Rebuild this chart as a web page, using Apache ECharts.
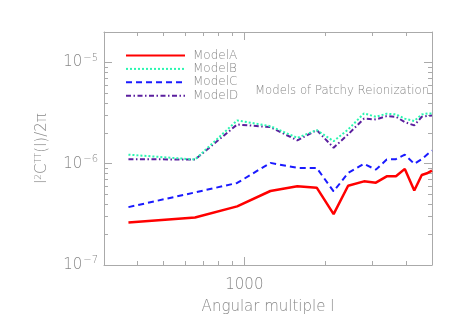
<!DOCTYPE html>
<html lang="en">
<head>
    <meta charset="UTF-8">
    <title>Models of Patchy Reionization</title>
    <script type="text/javascript" src="https://cdn.jsdelivr.net/npm/echarts@6/dist/echarts.min.js"></script>
    <style>
        html, body { margin: 0; padding: 0; background: #fff; }
    </style>
</head>
<body>
    <div id="main" style="width:463px;height:331px;"></div>
<script type="text/javascript">
    // multipole l
    var ell = [370, 655, 940, 1250, 1575, 1860, 2150, 2435, 2790, 3090, 3390, 3670, 3960, 4295, 4580, 4820, 5000];
    // l^2 C^TT(l) / 2pi for each model
    var modelA = [2.63e-7, 2.94e-7, 3.79e-7, 5.38e-7, 5.98e-7, 5.80e-7, 3.18e-7, 6.07e-7, 6.70e-7, 6.50e-7, 7.51e-7, 7.51e-7, 8.89e-7, 5.45e-7, 7.75e-7, 8.11e-7, 8.55e-7];
    var modelB = [1.23e-6, 1.10e-6, 2.68e-6, 2.35e-6, 1.80e-6, 2.15e-6, 1.67e-6, 2.18e-6, 3.14e-6, 2.91e-6, 3.12e-6, 3.07e-6, 2.79e-6, 2.64e-6, 3.07e-6, 3.14e-6, 3.14e-6];
    var modelC = [3.73e-7, 5.21e-7, 6.46e-7, 1.02e-6, 9.10e-7, 9.10e-7, 5.33e-7, 8.11e-7, 9.97e-7, 8.75e-7, 1.10e-6, 1.11e-6, 1.23e-6, 9.97e-7, 1.11e-6, 1.25e-6, 1.35e-6];
    var modelD = [1.11e-6, 1.10e-6, 2.44e-6, 2.30e-6, 1.70e-6, 2.15e-6, 1.44e-6, 1.95e-6, 2.79e-6, 2.74e-6, 2.95e-6, 2.91e-6, 2.58e-6, 2.39e-6, 2.91e-6, 2.97e-6, 2.99e-6];

    var names = ['ModelA', 'ModelB', 'ModelC', 'ModelD'];

    var axisGray = '#aaaaaa';
    var textGray = '#888888';
    var font = 'DejaVu Sans';

    function pairs(ys){
        var out = [];
        for(var i=0;i<ell.length;i++){
            out.push([ell[i], ys[i]]);
        }
        return out;
    }
    // only label exact powers of ten
    function isPow10(v){
        var e = Math.log(v) / Math.LN10;
        return Math.abs(e - Math.round(e)) < 1e-6;
    }

    // shared look of every axis (frame + inward ticks)
    function axis(pos, min, max){
        return {
            type: 'log', logBase: 10, min: min, max: max,
            position: pos,
            axisLine: {show: true, lineStyle: {color: axisGray, width: 1}},
            axisTick: {show: true, inside: true, length: 8, lineStyle: {color: axisGray, width: 1}},
            minorTick: {show: true, splitNumber: 9, length: 4, lineStyle: {color: axisGray, width: 1}},
            axisLabel: {show: false},
            splitLine: {show: false}
        };
    }

    var xBottom = axis('bottom', 300, 5000);
    xBottom.axisLabel = {
        show: true, margin: 13,
        formatter: function(v){ return isPow10(v) ? String(Math.round(v)) : ''; },
        color: textGray, fontFamily: font, fontSize: 15, fontWeight: 200
    };
    xBottom.name = 'Angular multiple l';
    xBottom.nameLocation = 'middle';
    xBottom.nameGap = 35;
    xBottom.nameTextStyle = {color: textGray, fontFamily: font, fontSize: 15, fontWeight: 200};
    var xTop = axis('top', 300, 5000);

    var yLeft = axis('left', 1e-7, 2e-5);
    yLeft.axisLabel = {
        show: true, margin: 6,
        formatter: function(v){
            if(!isPow10(v)) return '';
            var e = Math.round(Math.log(v) / Math.LN10);
            return '{b|10}{s|' + (e < 0 ? '\u2212' + (-e) : e) + '}';
        },
        rich: {
            b: {color: textGray, fontFamily: font, fontSize: 15, fontWeight: 200},
            s: {color: textGray, fontFamily: font, fontSize: 10, fontWeight: 200, padding: [0, 0, 9, 1]}
        }
    };
    yLeft.name = '{a|l}{s|2}{a|C}{s|TT}{a|(l)/2\u03c0}';
    yLeft.nameLocation = 'middle';
    yLeft.nameGap = 53;
    yLeft.nameRotate = 90;
    yLeft.nameTextStyle = {
        rich: {
            a: {color: textGray, fontFamily: font, fontSize: 15, fontWeight: 200},
            s: {color: textGray, fontFamily: font, fontSize: 9, fontWeight: 200, padding: [0, 0, 8, 0]}
        }
    };
    var yRight = axis('right', 1e-7, 2e-5);

    var styles = [
        {color: '#ff0000', width: 2.5, type: 'solid'},
        {color: '#2af5b0', width: 2, type: 'dotted'},
        {color: '#1a1aff', width: 2, type: [6, 4]},
        {color: '#5b1f9e', width: 2, type: [5, 2.5, 1.5, 2.5]}
    ];
    var models = [modelA, modelB, modelC, modelD];
    var series = [];
    for(var i=0;i<models.length;i++){
        series.push({
            name: names[i],
            type: 'line',
            xAxisIndex: 0,
            yAxisIndex: 0,
            data: pairs(models[i]),
            symbol: 'none',
            lineStyle: styles[i],
            itemStyle: {color: styles[i].color},
            z: 10 - i
        });
    }

    var myChart = echarts.init(document.getElementById('main'));
    var option = {
        animation: false,
        backgroundColor: '#ffffff',
        grid: {left: 104, right: 31, top: 32, bottom: 66},
        legend: {
            orient: 'vertical',
            left: 120, top: 44,
            itemWidth: 59, itemHeight: 13, itemGap: 0.4,
            data: names,
            itemStyle: {opacity: 0},
            textStyle: {color: textGray, fontFamily: font, fontSize: 12, fontWeight: 200, lineHeight: 13, padding: [0, 0, 0, 3]}
        },
        graphic: [{
            type: 'text',
            left: 255, top: 85,
            style: {text: 'Models of Patchy Reionization', fill: textGray,
                font: '200 11.7px "DejaVu Sans"'}
        }],
        xAxis: [xBottom, xTop],
        yAxis: [yLeft, yRight],
        series: series
    };
    myChart.setOption(option);
</script>
</body>
</html>
